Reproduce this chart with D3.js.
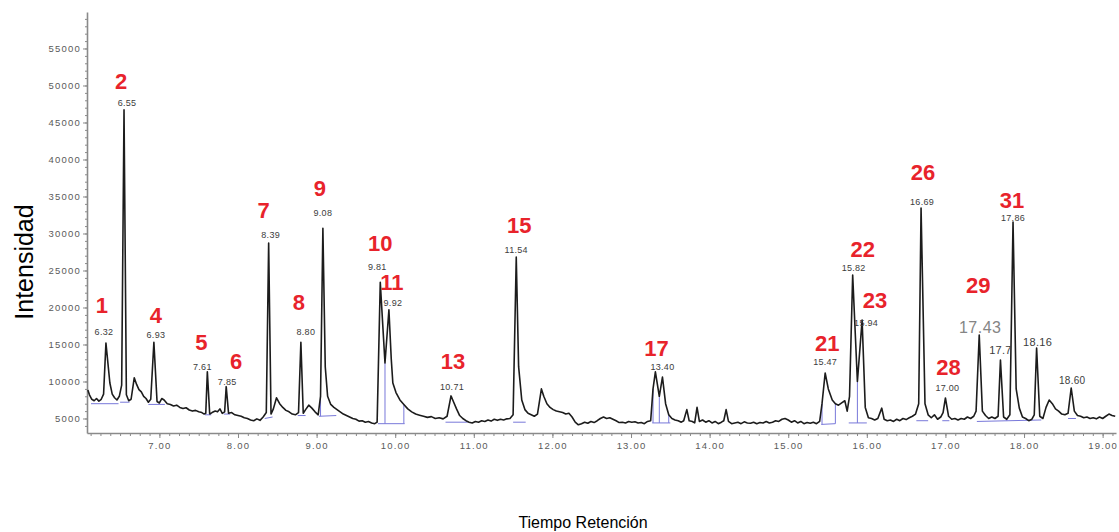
<!DOCTYPE html>
<html>
<head>
<meta charset="utf-8">
<script src="https://cdn.jsdelivr.net/npm/d3@7"></script>
<style>
  body { margin: 0; background: #fff; }
  svg { display: block; font-family: "Liberation Sans", Arial, sans-serif; }
</style>
</head>
<body>
<svg id="chart" width="1119" height="532"></svg>
<script>
// Chromatogram trace between the labelled peaks: [retention time (min), intensity]
const traceBase = [
  [6.09,8850],[6.11,8200],[6.14,7600],[6.17,7400],[6.20,7700],[6.23,7350],[6.26,7600],[6.29,8300],
  [6.37,9800],[6.40,8300],[6.43,7800],[6.46,7500],[6.49,8000],[6.52,9500],
  [6.58,8200],[6.61,7400],[6.64,7600],[6.68,10500],[6.71,9600],[6.74,8900],[6.77,8600],[6.80,8000],[6.83,7700],[6.86,7200],[6.89,7600],
  [6.97,7300],[7.00,7100],[7.03,7700],[7.06,7500],[7.10,7000],[7.14,6900],[7.18,6700],[7.22,6800],[7.26,6500],[7.30,6350],[7.34,6450],[7.38,6150],[7.42,6000],[7.46,6100],[7.50,5900],[7.54,5800],[7.57,5600],[7.59,5700],
  [7.64,5600],[7.67,5800],[7.71,6000],[7.74,5900],[7.77,6300],[7.80,5700],[7.83,5900],
  [7.88,5700],[7.92,5800],[7.96,5500],[8.00,5400],[8.04,5300],[8.08,5100],[8.12,5000],[8.16,4800],[8.20,4700],[8.24,4950],[8.28,4750],[8.32,5200],[8.36,5800],
  [8.42,5600],[8.45,6300],[8.49,7800],[8.53,7000],[8.57,6500],[8.61,6100],[8.65,5900],[8.69,5600],[8.73,5500],[8.77,5800],
  [8.83,5700],[8.86,6200],[8.90,6800],[8.94,6400],[8.98,5900],[9.02,5500],[9.05,8000],
  [9.11,12000],[9.14,8000],[9.18,6900],[9.22,6500],[9.26,6200],[9.30,5900],[9.34,5600],[9.38,5400],[9.42,5200],[9.46,5000],[9.50,4900],[9.54,4650],[9.58,4700],[9.62,4500],[9.66,4600],[9.70,4400],[9.74,4300],[9.77,4500],
  [9.87,12500],
  [9.95,13000],[9.97,9800],[10.01,8500],[10.06,7500],[10.11,6900],[10.16,6300],[10.21,5900],[10.26,5600],[10.31,5450],[10.36,5300],[10.41,5150],[10.46,5250],[10.51,5000],[10.56,5100],[10.61,4950],[10.66,5300],
  [10.74,7300],[10.78,6300],[10.82,5400],[10.86,5000],[10.90,4700],[10.94,4500],[10.98,4400],[11.02,4600],[11.06,4500],[11.10,4700],[11.14,4600],[11.18,4800],[11.22,4650],[11.26,4900],[11.30,4750],[11.34,4900],[11.38,4800],[11.42,4950],[11.46,5000],[11.50,5500],
  [11.57,12000],[11.61,7500],[11.65,6200],[11.69,5700],[11.73,5500],[11.77,5300],[11.81,5600],[11.86,9000],[11.89,8000],[11.93,7000],[11.97,6500],[12.01,6200],[12.05,6000],[12.09,5900],[12.13,5800],[12.17,5600],[12.21,5700],[12.25,5200],[12.29,4500],[12.33,4150],[12.37,4300],[12.41,4500],[12.45,4350],[12.49,4600],[12.53,4450],
  [12.57,4700],[12.61,5000],[12.65,5200],[12.69,5000],[12.73,5100],[12.77,4900],[12.81,4700],[12.85,4450],[12.89,4500],[12.93,4400],[12.97,4600],[13.01,4500],[13.05,4550],[13.09,4400],[13.13,4450],[13.17,4300],[13.21,4600],[13.25,4700],[13.28,9000],[13.31,11300],[13.36,8000],
  [13.44,7000],[13.48,5500],[13.52,5000],[13.56,4800],[13.60,4700],[13.64,4500],[13.67,4700],[13.71,6200],[13.74,4700],[13.78,4600],[13.81,4400],[13.84,6500],[13.87,4600],[13.91,4800],[13.95,4500],[13.99,4700],[14.03,4400],[14.07,4600],[14.11,4300],[14.15,4500],[14.18,4700],[14.21,6200],[14.24,4600],[14.28,4300],[14.32,4400],[14.36,4500],[14.40,4300],[14.44,4550],[14.48,4400],[14.52,4350],[14.56,4500],[14.60,4300],[14.64,4450],[14.68,4400],[14.72,4600],[14.76,4400],[14.80,4500],[14.84,4700],[14.88,4600],[14.92,4900],[14.96,5000],[15.00,4800],[15.04,4500],[15.08,4700],[15.12,4400],[15.16,4600],[15.20,4300],[15.24,4450],[15.28,4350],[15.32,4500],[15.36,4300],[15.40,4600],[15.43,7000],
  [15.51,9000],[15.56,7500],[15.60,7000],[15.64,6800],[15.68,7100],[15.72,7400],[15.75,6000],[15.78,8000],
  [15.88,10000],
  [15.98,6500],[16.02,5100],[16.06,5000],[16.10,4800],[16.14,5000],[16.19,6400],[16.22,4900],[16.26,4700],[16.30,4800],[16.34,4600],[16.38,4900],[16.42,4700],[16.46,5000],[16.50,4850],[16.54,5100],[16.58,5300],[16.62,5600],[16.66,7000],
  [16.74,7000],[16.78,5500],[16.82,5100],[16.86,5500],[16.90,4900],[16.94,5200],[16.97,5800],
  [17.04,5300],[17.08,4900],[17.12,5000],[17.16,4800],[17.20,5000],[17.24,4900],[17.28,5200],[17.32,5000],[17.36,5300],[17.39,6000],
  [17.47,6000],[17.51,5400],[17.55,5000],[17.59,5200],[17.63,5000],[17.67,5300],
  [17.74,5200],[17.78,4900],[17.82,5500],
  [17.90,9000],[17.94,6400],[17.98,5200],[18.02,5000],[18.06,4700],[18.10,4900],[18.13,5500],
  [18.20,5300],[18.24,5000],[18.28,6500],[18.32,7500],[18.36,7000],[18.40,6300],[18.44,6000],[18.48,5600],[18.52,5500],[18.56,5700],
  [18.64,6000],[18.68,5400],[18.72,5300],[18.76,5100],[18.80,5200],[18.84,5000],[18.88,5100],[18.92,4950],[18.96,5200],[19.00,5000],[19.04,5300],[19.08,5600],[19.12,5400],[19.16,5300]
];

// Identified peaks
const peakNumbers = ["1","2","4","5","6","7","8","9","10","11","13","15","17","21","22","23","26","28","29","","31","",""];
const peakTimes   = [6.32,6.55,6.93,7.61,7.85,8.39,8.80,9.08,9.81,9.92,10.71,11.54,13.40,15.47,15.82,15.94,16.69,17.00,17.43,17.70,17.86,18.16,18.60];
const peakHeights = [15200,46700,15300,11300,9300,28700,15300,30700,23400,19700,8050,26800,10600,11150,24400,18300,33450,7770,16280,12900,31550,14530,9120];
const peakTexts   = ["6.32","6.55","6.93","7.61","7.85","8.39","8.80","9.08","9.81","9.92","10.71","11.54","13.40","15.47","15.82","15.94","16.69","17.00","17.43","17.7","17.86","18.16","18.60"];

// Integration baselines: [start, end, intensity at start, intensity at end]
const integrations = [
  [6.13,6.48,7000,7000],[6.50,6.62,7200,7200],[6.86,7.07,6900,6900],[7.58,7.66,5500,5500],
  [7.82,7.90,5600,5600],[8.34,8.44,5000,5200],[8.76,8.86,5400,5400],[9.03,9.25,5300,5400],
  [9.78,10.12,4300,4300],[10.64,10.92,4500,4500],[11.50,11.66,4500,4500],[13.27,13.50,4400,4400],
  [15.42,15.60,4200,4300],[15.77,16.00,4400,4400],[16.63,16.78,4700,4700],[16.96,17.05,4700,4700],
  [17.40,18.22,4600,4800],[18.56,18.66,5000,5000]
];
// Peak split / boundary drop lines (times)
const dropTimes = [9.05, 9.87, 10.11, 13.28, 13.36, 13.48, 15.43, 15.60, 15.88, 17.78];

const xTicks = [7,8,9,10,11,12,13,14,15,16,17,18,19];
const yTicks = [5000,10000,15000,20000,25000,30000,35000,40000,45000,50000,55000];

// Annotation placement relative to each apex: number label [dx, dy], time label [dx, dy], time label font size
const labelLayout = [
  [[-4,-38],[-2,-11],9],[[-3,-28],[3,-7],9],[[2,-27],[2,-7],9],[[-6,-29],[-5,-5],9],
  [[10,-25],[1,-5],9],[[-5,-33],[2,-8],9],[[-2,-40],[5,-10],9],[[-3,-40],[0,-15],9],
  [[0,-39],[-3,-15],9],[[3,-27],[4,-7],9],[[2,-34],[1,-9],9],[[3,-32],[0,-7],9],
  [[-6,-29],[0,-10],9],[[2,-29],[0,-11],9],[[10,-25],[1,-7],9],[[13,-20],[4,3],9],
  [[2,-35],[1,-6],9],[[3,-30],[2,-10],9],[[-1,-50],[1,-8],16],[[0,0],[0,-10],11],
  [[-1,-22],[0,-4],9],[[0,0],[1,-6],11],[[0,0],[1,-8],10]
];

const trace = traceBase
  .concat(peakTimes.map((t, i) => [t, peakHeights[i]]))
  .sort((a, b) => a[0] - b[0]);

const svg = d3.select("#chart");
const x = d3.scaleLinear().domain([6.079, 19.17]).range([87, 1116]);
const y = d3.scaleLinear().domain([3040, 59930]).range([433, 12]);

const axisColor = "#8a8a8a";
const tickText = "#5a5a5a";

// Minor ticks
svg.append("g").attr("transform", "translate(0,433)")
  .call(d3.axisBottom(x).tickValues(d3.range(6.125, 19.17, 0.125)).tickSize(3).tickFormat(""))
  .call(g => g.select(".domain").remove())
  .call(g => g.selectAll("line").attr("stroke", axisColor));
svg.append("g").attr("transform", "translate(87,0)")
  .call(d3.axisLeft(y).tickValues(d3.range(4000, 59001, 1000)).tickSize(2).tickFormat(""))
  .call(g => g.select(".domain").remove())
  .call(g => g.selectAll("line").attr("stroke", axisColor));

// Major axes
const xAxis = svg.append("g").attr("transform", "translate(0,433)")
  .call(d3.axisBottom(x).tickValues(xTicks).tickFormat(d3.format(".2f")).tickSize(5).tickSizeOuter(0).tickPadding(4));
const yAxis = svg.append("g").attr("transform", "translate(87,0)")
  .call(d3.axisLeft(y).tickValues(yTicks).tickFormat(d3.format("d")).tickSize(4).tickSizeOuter(0).tickPadding(2));
[xAxis, yAxis].forEach(g => {
  g.select(".domain").attr("stroke", axisColor).attr("stroke-width", 1.6);
  g.selectAll(".tick line").attr("stroke", axisColor);
  g.selectAll(".tick text")
    .attr("fill", tickText)
    .style("font-size", "9.5px")
    .style("letter-spacing", "1.2px")
    .style("font-family", "'Liberation Sans', Arial, sans-serif");
});

// Integration baselines
const blue = "#6262d4";
const intG = svg.append("g").attr("stroke", blue).attr("stroke-width", 1).attr("fill", "none").attr("opacity", 0.85);
intG.selectAll("line.base").data(integrations).join("line")
  .attr("class", "base")
  .attr("x1", d => x(d[0])).attr("y1", d => y(d[2]))
  .attr("x2", d => x(d[1])).attr("y2", d => y(d[3]));

const traceAt = t => {
  const i = d3.bisector(d => d[0]).left(trace, t);
  if (i <= 0) return trace[0][1];
  if (i >= trace.length) return trace[trace.length - 1][1];
  const a = trace[i - 1], b = trace[i];
  return a[1] + (b[1] - a[1]) * (t - a[0]) / (b[0] - a[0]);
};
const baseAt = t => {
  const s = integrations.find(d => t >= d[0] && t <= d[1]);
  return s ? s[2] + (s[3] - s[2]) * (t - s[0]) / (s[1] - s[0]) : traceAt(t);
};
intG.selectAll("line.drop").data(dropTimes).join("line")
  .attr("class", "drop")
  .attr("x1", d => x(d)).attr("y1", d => y(baseAt(d)))
  .attr("x2", d => x(d)).attr("y2", d => y(traceAt(d)));

// Chromatogram trace
svg.append("path")
  .datum(trace)
  .attr("fill", "none")
  .attr("stroke", "#1c1c1c")
  .attr("stroke-width", 1.6)
  .attr("stroke-linejoin", "round")
  .attr("d", d3.line().x(d => x(d[0])).y(d => y(d[1])));

// Peak annotations
const ann = svg.append("g");
peakTimes.forEach((t, i) => {
  const ax = x(t), ay = y(peakHeights[i]);
  const [nd, td, ts] = labelLayout[i];
  ann.append("text")
    .attr("x", ax + td[0]).attr("y", ay + td[1])
    .attr("text-anchor", "middle")
    .attr("dominant-baseline", "central")
    .attr("fill", ts > 12 ? "#858585" : "#3c3c3c")
    .style("font-size", ts + "px")
    .style("letter-spacing", ts > 12 ? "0.5px" : "0.3px")
    .text(peakTexts[i]);
  if (peakNumbers[i]) {
    ann.append("text")
      .attr("x", ax + nd[0]).attr("y", ay + nd[1])
      .attr("text-anchor", "middle")
      .attr("dominant-baseline", "central")
      .attr("fill", "#e8232b")
      .style("font-size", "22px")
      .style("font-weight", "bold")
      .text(peakNumbers[i]);
  }
});

// Axis titles
svg.append("text")
  .attr("transform", "translate(33,262) rotate(-90)")
  .attr("text-anchor", "middle")
  .attr("fill", "#000")
  .style("font-size", "25px")
  .text("Intensidad");
svg.append("text")
  .attr("x", 583).attr("y", 528)
  .attr("text-anchor", "middle")
  .attr("fill", "#000")
  .style("font-size", "16px")
  .text("Tiempo Retención");
</script>
</body>
</html>
